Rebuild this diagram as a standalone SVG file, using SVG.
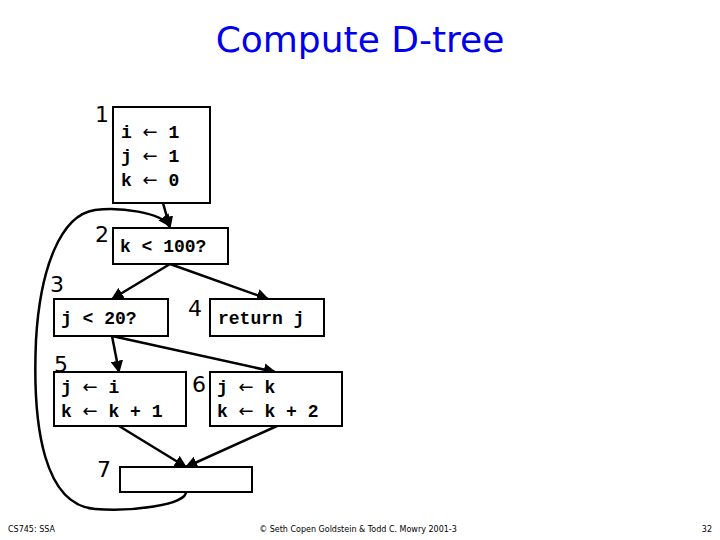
<svg xmlns="http://www.w3.org/2000/svg" width="720" height="540" viewBox="0 0 720 540">
<defs>
<marker id="ah" viewBox="0 0 10 10" refX="9" refY="5" markerWidth="5" markerHeight="5" orient="auto"><path d="M0,0 L10,5 L0,10 z" fill="#000"/></marker>
<style>
.b{fill:#fff;stroke:#000;stroke-width:2}
.c{font-family:"Liberation Mono",monospace;font-size:18px;font-weight:bold;fill:#000}
.a{font-family:"DejaVu Sans",sans-serif;font-weight:normal}
.n{font-family:"DejaVu Sans",sans-serif;font-size:22px;fill:#000}
.e{fill:none;stroke:#000;stroke-width:2.5;marker-end:url(#ah)}
.f{font-family:"DejaVu Sans",sans-serif;font-size:8px;fill:#000}
</style>
</defs>
<rect width="720" height="540" fill="#fff"/>
<text x="360" y="52" text-anchor="middle" font-family="DejaVu Sans,sans-serif" font-size="36" fill="#0000ee">Compute D-tree</text>
<g id="connectors">
<path class="e" d="M163,203 L170,228"/>
<path class="e" d="M170,264 L112,299"/>
<path class="e" d="M170,264 L268,299"/>
<path class="e" d="M112,336 L119,372"/>
<path class="e" d="M112,336 L275,372"/>
<path class="e" d="M119,426 L186,467"/>
<path class="e" d="M277,426 L186,467"/>
<path class="e" d="M186,492 C186,505 130,512 95,509 C45,505 32,430 36,340 C40,270 60,215 95,210 C120,207 160,212 170,226"/>
</g>
<g id="n1"><rect class="b" x="113" y="107" width="97" height="96"/><text class="n" x="95" y="122">1</text><text class="c" x="121" y="138">i <tspan class="a">←</tspan> 1</text><text class="c" x="121" y="162">j <tspan class="a">←</tspan> 1</text><text class="c" x="121" y="186">k <tspan class="a">←</tspan> 0</text></g>
<g id="n2"><rect class="b" x="113" y="228" width="115" height="36"/><text class="n" x="95" y="242">2</text><text class="c" x="120" y="252">k &lt; 100?</text></g>
<g id="n3"><rect class="b" x="54" y="299" width="114" height="37"/><text class="n" x="50" y="292">3</text><text class="c" x="61" y="324">j &lt; 20?</text></g>
<g id="n4"><rect class="b" x="210" y="299" width="114" height="37"/><text class="n" x="188" y="316">4</text><text class="c" x="218" y="324">return j</text></g>
<g id="n5"><rect class="b" x="54" y="372" width="132" height="54"/><text class="n" x="54" y="372">5</text><text class="c" x="61" y="393">j <tspan class="a">←</tspan> i</text><text class="c" x="61" y="417">k <tspan class="a">←</tspan> k + 1</text></g>
<g id="n6"><rect class="b" x="210" y="372" width="132" height="54"/><text class="n" x="192" y="392">6</text><text class="c" x="217" y="393">j <tspan class="a">←</tspan> k</text><text class="c" x="217" y="417">k <tspan class="a">←</tspan> k + 2</text></g>
<g id="n7"><rect class="b" x="120" y="467" width="132" height="25"/><text class="n" x="97" y="477">7</text></g>
<text class="f" x="8" y="532">CS745: SSA</text>
<text class="f" x="358" y="532" text-anchor="middle">© Seth Copen Goldstein &amp; Todd C. Mowry 2001-3</text>
<text class="f" x="712" y="532" text-anchor="end">32</text>
</svg>
